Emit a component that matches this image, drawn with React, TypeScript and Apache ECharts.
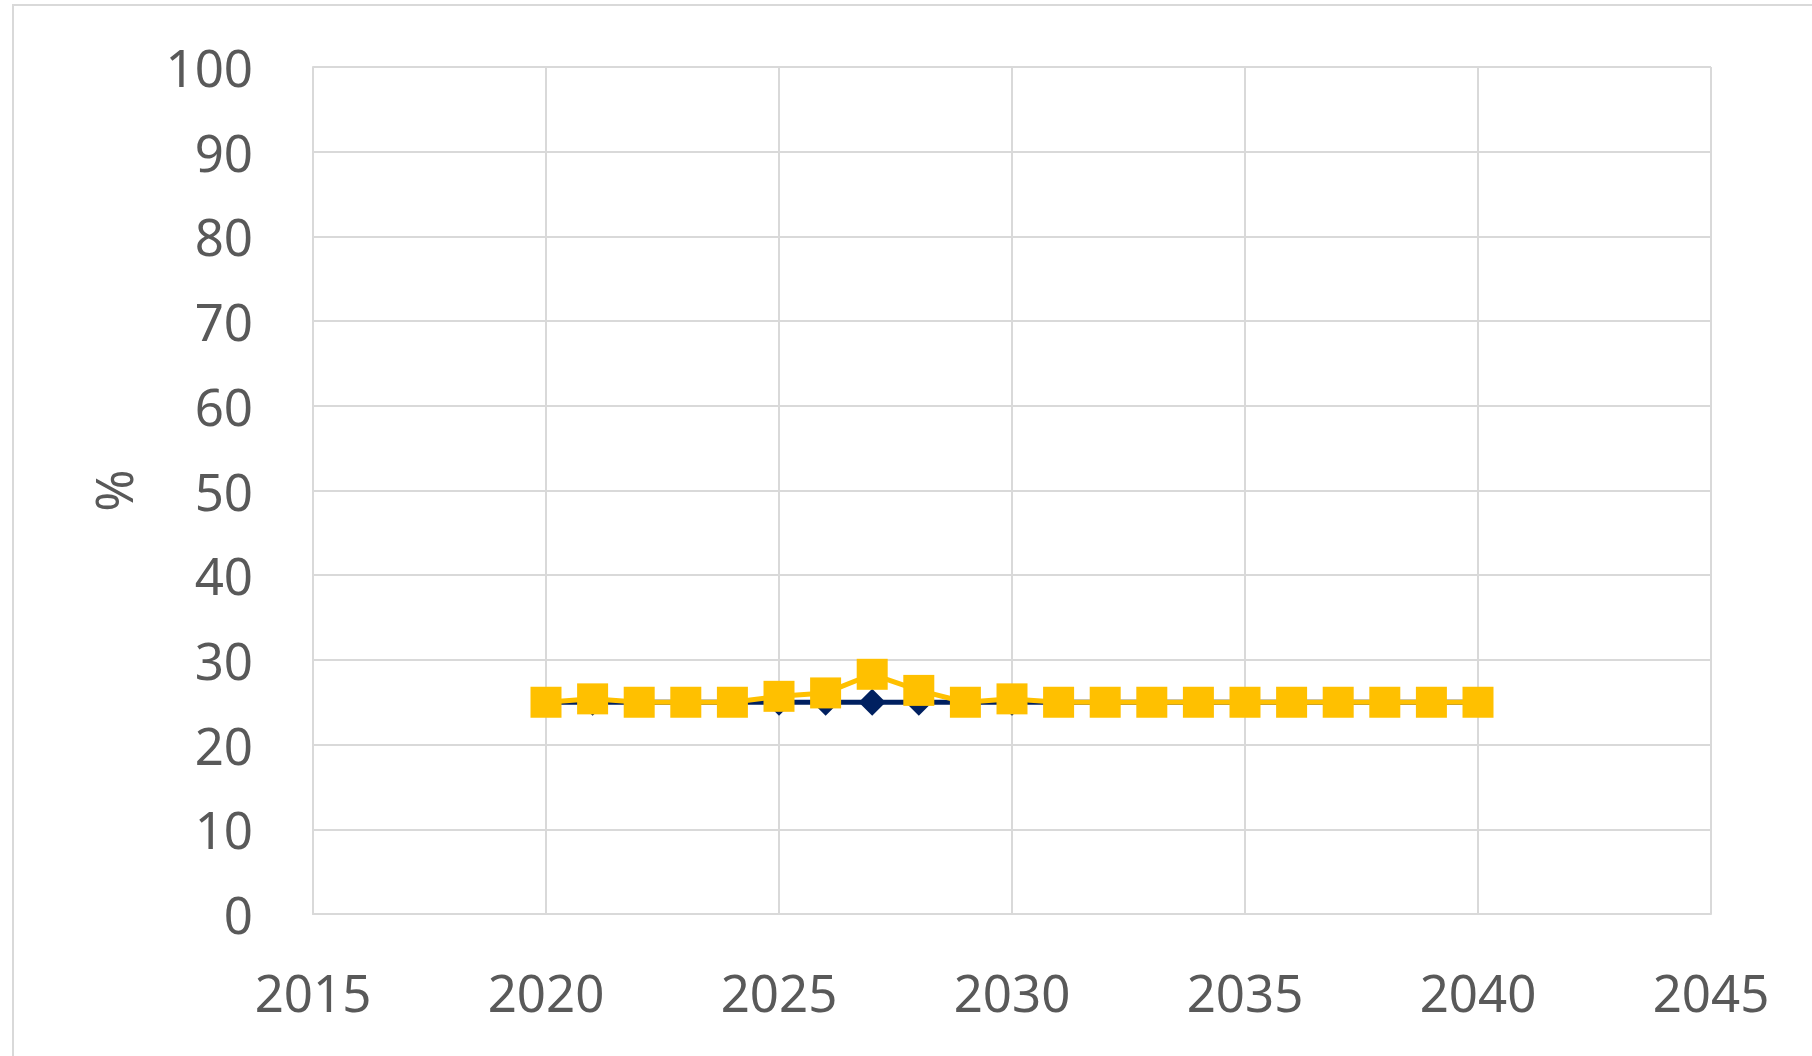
import React, { useEffect, useRef } from "react";
import * as echarts from "echarts";

const years = [2020, 2021, 2022, 2023, 2024, 2025, 2026, 2027, 2028, 2029, 2030, 2031, 2032, 2033, 2034, 2035, 2036, 2037, 2038, 2039, 2040];
const navyValues = [25, 25, 25, 25, 25, 25, 25, 25, 25, 25, 25, 25, 25, 25, 25, 25, 25, 25, 25, 25, 25];
const yellowValues = [25, 25.4, 25, 25, 25, 25.7, 26.1, 28.3, 26.4, 25, 25.4, 25, 25, 25, 25, 25, 25, 25, 25, 25, 25];

const xMin = 2015;
const xMax = 2045;
const xInterval = 5;
const yMin = 0;
const yMax = 100;
const yInterval = 10;
const yAxisName = "%";

export default function App() {
  const ref = useRef<HTMLDivElement>(null);
  useEffect(() => {
    document.body.style.margin = "0";
    if (!ref.current) return;
    const chart = echarts.init(ref.current, null, { renderer: "svg" });
    const font = "'Noto Sans', 'Open Sans', sans-serif";
    const gridColor = "#d9d9d9";
    const labelColor = "#595959";
    chart.setOption({
      animation: false,
      backgroundColor: "#ffffff",
      grid: { left: 313, right: 101, top: 67, bottom: 142, containLabel: false },
      graphic: [
        {
          type: "rect",
          z: -10,
          shape: { x: 13, y: 5, width: 1900, height: 1200 },
          style: { fill: "none", stroke: gridColor, lineWidth: 2 },
        },
      ],
      xAxis: {
        type: "value",
        min: xMin,
        max: xMax,
        interval: xInterval,
        axisLine: { show: true, lineStyle: { color: gridColor, width: 2 } },
        axisTick: { show: false },
        splitLine: { show: true, lineStyle: { color: gridColor, width: 2 } },
        axisLabel: {
          color: labelColor,
          fontSize: 51,
          fontFamily: font,
          margin: 52,
          formatter: (v: number) => String(v),
        },
      },
      yAxis: {
        type: "value",
        min: yMin,
        max: yMax,
        interval: yInterval,
        name: yAxisName,
        nameLocation: "middle",
        nameRotate: 90,
        nameGap: 175,
        nameTextStyle: { color: labelColor, fontSize: 51, fontFamily: font },
        axisLine: { show: true, lineStyle: { color: gridColor, width: 2 } },
        axisTick: { show: false },
        splitLine: { show: true, lineStyle: { color: gridColor, width: 2 } },
        axisLabel: {
          color: labelColor,
          fontSize: 51,
          fontFamily: font,
          margin: 60,
          padding: [0, 0, 6, 0],
          formatter: (v: number) => String(v),
        },
      },
      series: [
        {
          type: "line",
          data: years.map((y, i) => [y, navyValues[i]]),
          symbol: "diamond",
          symbolSize: 27,
          lineStyle: { color: "#002060", width: 5 },
          itemStyle: { color: "#002060" },
          z: 2,
        },
        {
          type: "line",
          data: years.map((y, i) => [y, yellowValues[i]]),
          symbol: "rect",
          symbolSize: 31,
          lineStyle: { color: "#FFC000", width: 5 },
          itemStyle: { color: "#FFC000" },
          z: 3,
        },
      ],
    });
    return () => chart.dispose();
  }, []);
  return <div ref={ref} style={{ width: 1812, height: 1056 }} />;
}
